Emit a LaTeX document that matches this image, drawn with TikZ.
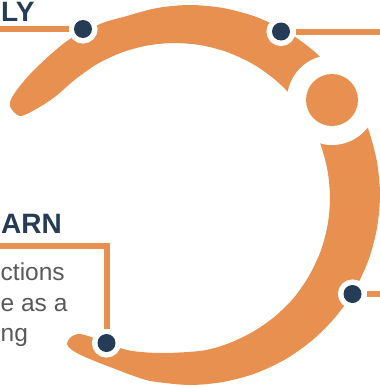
\documentclass[tikz,border=0pt]{standalone}
\usepackage{fontspec}
\setmainfont{Liberation Sans}
\usepackage{tikz}
\usetikzlibrary{calc}
\definecolor{eennqq}{rgb}{0.91,0.565,0.31}
\definecolor{qqzzww}{rgb}{0.145,0.235,0.337}
\definecolor{wwwwww}{rgb}{0.35,0.35,0.35}
\tikzstyle{every node}=[font=\large]

\begin{document}
\begin{tikzpicture}[line cap=butt,line join=miter,x=1pt,y=-1pt,
  dotmark/.style={circle,fill=qqzzww,inner sep=0pt,minimum size=18pt,outer sep=5.5pt,preaction={draw=white,line width=11pt}},
  link/.style={line width=6pt,color=eennqq},
  title/.style={font=\fontsize{28}{34}\selectfont\bfseries,color=qqzzww,anchor=base west,inner sep=0pt},
  body/.style={font=\fontsize{24.5}{31.5}\selectfont,color=wwwwww,anchor=base west,inner sep=0pt}]
\useasboundingbox (0,0) rectangle (380,386);
% the ring
\fill[color=eennqq] plot[smooth cycle] coordinates {(10,106) (14,94) (33,71) (67,41) (100,24) (125,16.5) (157,8) (190,5) (223,8) (255,16.5) (285,30.5) (312,49.5) (335.5,72.8) (354.5,100) (368.5,130) (377,162) (380,195) (377,228) (368.5,260) (354.5,290) (335.5,317) (312,340.5) (285,359.5) (255,373.5) (223,382) (190,385) (157,382) (141,378.5) (110,367) (85,357) (72,350) (67,344) (71,337) (80,334) (97,339) (127,350) (161,353) (202,350.7) (228,343.6) (252.5,332) (274.6,316.7) (294,297.6) (309.2,275.5) (320.7,251) (327.6,225) (330,198) (327.6,171) (320.7,145) (309.2,120.5) (294,98.4) (274.6,79.3) (252.5,63.8) (228,52.4) (202,45.4) (175,43) (148,45.4) (122,52.4) (97.5,63.8) (75.4,79.3) (56,96) (38,108) (20,116)};
% gap and ball
\fill[color=white] (332,100) circle (45);
\fill[color=eennqq] (332,100) circle (26);
% markers
\node[dotmark] (dapply) at (83,29) {};
\node[dotmark] (dtop) at (281,31.5) {};
\node[dotmark] (dright) at (352.5,294) {};
\node[dotmark] (dlearn) at (106.5,343) {};
\coordinate (capply) at (0,29);
\coordinate (ctop) at (380,31.5);
\coordinate (cright) at (380,294);
\coordinate (clearn) at (0,246);
\coordinate (knee) at (106.5,246);
\draw[link] (capply) -- (dapply);
\draw[link] (dtop) -- (ctop);
\draw[link] (dright) -- (cright);
\draw[link] (clearn) -- (knee) -- (dlearn);
% texts
\node[title] (tapply) at (1,21.5) {LY};
\node[title] (tlearn) at (1,233.5) {ARN};
\node[body] (tbody1) at (0.5,280) {ctions};
\node[body] (tbody2) at (0.5,311.7) {e as a};
\node[body] (tbody3) at (0.5,341.7) {ng};
\end{tikzpicture}
\end{document}
